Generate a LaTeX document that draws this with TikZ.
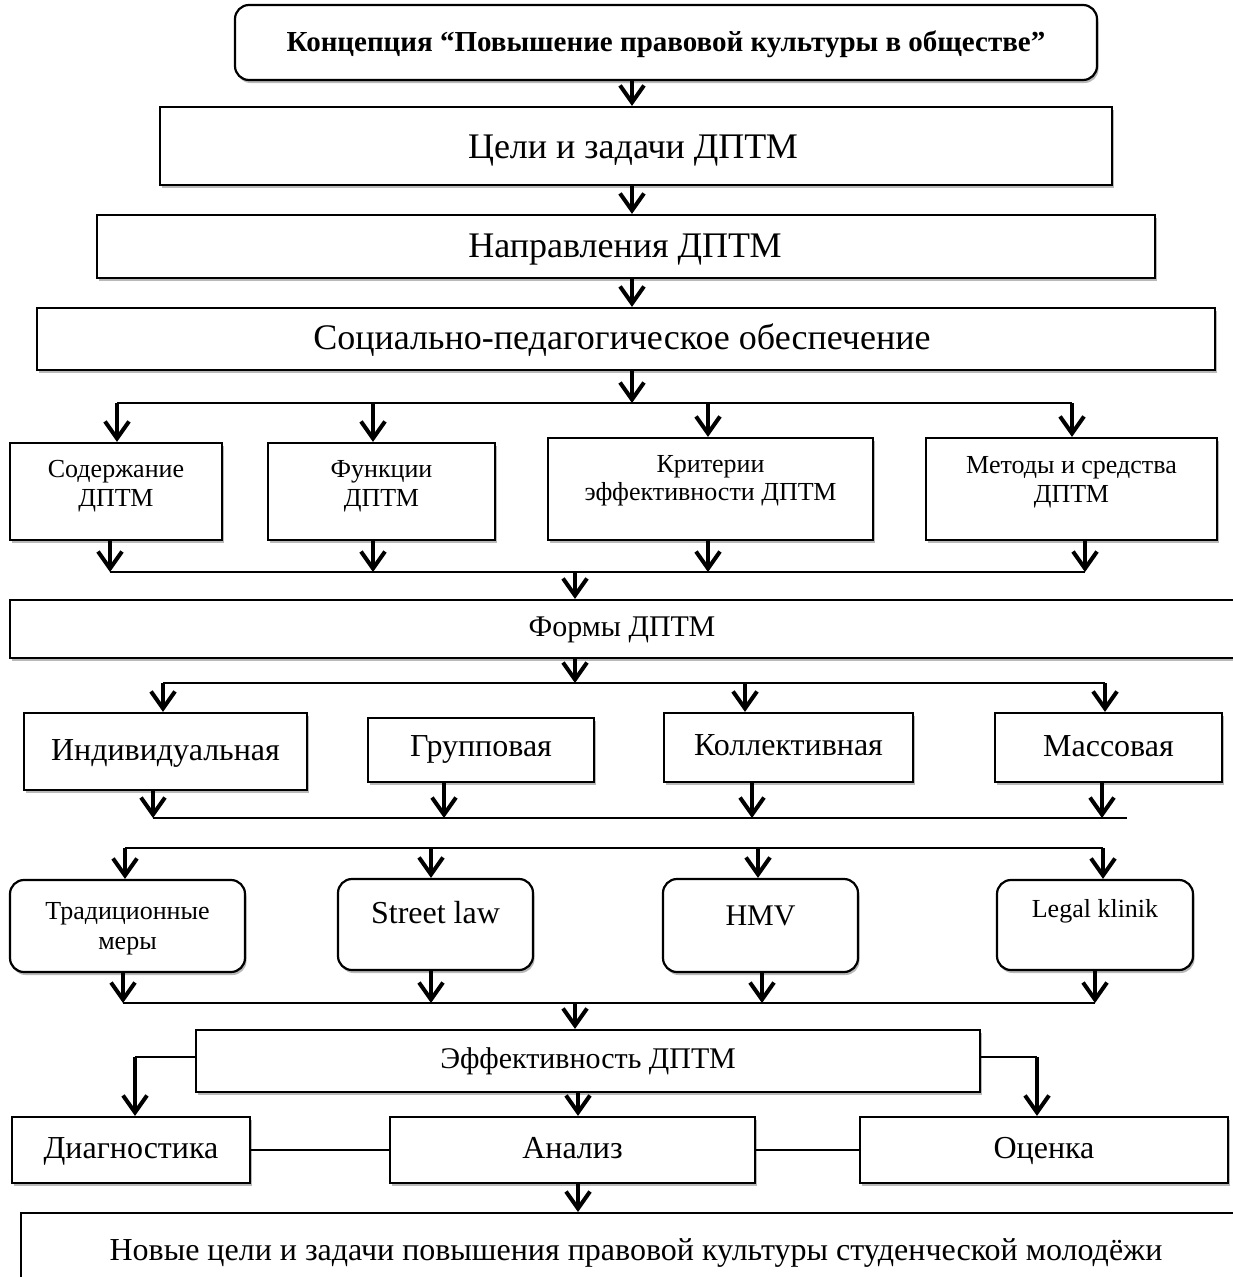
\documentclass[tikz,border=0pt]{standalone}
\usepackage{fontspec}
\setmainfont{Liberation Serif}
\usetikzlibrary{arrows.meta,shadows}
\begin{document}
\begin{tikzpicture}[x=1pt,y=-1pt,
  bx/.style={draw,line width=2.2pt,rectangle,inner sep=0pt,fill=white,
    drop shadow={shadow xshift=1.5pt,shadow yshift=-3pt,fill=gray!55,opacity=1}},
  rbx/.style={bx,rounded corners=14pt},
  arr/.style={line width=4pt,-{Straight Barb[length=17pt,width=24pt]}},
  bus/.style={line width=2pt},
  ln/.style={line width=2pt},
  t/.style={inner sep=0pt},
  f26/.style={t,font=\fontsize{26}{30}\selectfont,text height=18pt,text depth=6pt},
  f30/.style={t,font=\fontsize{30}{34}\selectfont,text height=21pt,text depth=7pt},
  f32/.style={t,font=\fontsize{32}{36}\selectfont,text height=22pt,text depth=7pt},
  f36/.style={t,font=\fontsize{36}{40}\selectfont,text height=25pt,text depth=8pt},
  fb/.style={t,font=\fontsize{29}{34}\selectfont\bfseries,text height=20pt,text depth=6pt}]
\useasboundingbox (0,0) rectangle (1232,1277);

% top chain
\node[rbx,minimum width=862pt,minimum height=75pt] (concept) at (666,42.5) {};
\node[fb] (conceptT) at (666,44) {Концепция “Повышение правовой культуры в обществе”};
\node[bx,minimum width=952pt,minimum height=78pt] (goals) at (636,146) {};
\node[f36] (goalsT) at (633,150) {Цели и задачи ДПТМ};
\node[bx,minimum width=1058pt,minimum height=63pt] (dirs) at (626,246.5) {};
\node[f36] (dirsT) at (625,249) {Направления ДПТМ};
\node[bx,minimum width=1178pt,minimum height=62pt] (social) at (626,339) {};
\node[f36] (socialT) at (622,341) {Социально-педагогическое обеспечение};
\coordinate (axis) at (632,0);
\draw[arr] (concept.south -| axis) -- (goals.north -| axis);
\draw[arr] (goals.south -| axis) -- (dirs.north -| axis);
\draw[arr] (dirs.south -| axis) -- (social.north -| axis);

% row 1
\node[bx,minimum width=212pt,minimum height=97pt] (sod) at (116,491.5) {};
\node[f26] (sodT1) at (116,471) {Содержание};
\node[f26] (sodT2) at (116,500) {ДПТМ};
\node[bx,minimum width=227pt,minimum height=97pt] (fun) at (381.5,491.5) {};
\node[f26] (funT1) at (381.5,471) {Функции};
\node[f26] (funT2) at (381.5,500) {ДПТМ};
\node[bx,minimum width=325pt,minimum height=102pt] (krit) at (710.5,489) {};
\node[f26] (kritT1) at (710.5,466) {Критерии};
\node[f26] (kritT2) at (710.5,494) {эффективности ДПТМ};
\node[bx,minimum width=291pt,minimum height=102pt] (met) at (1071.5,489) {};
\node[f26] (metT1) at (1071.5,467) {Методы и средства};
\node[f26] (metT2) at (1071.5,496) {ДПТМ};
\coordinate (b1a) at (117,403);
\coordinate (b1b) at (373,403);
\coordinate (b1c) at (708,403);
\coordinate (b1d) at (1072,403);
\draw[arr] (social.south -| axis) -- (axis |- b1a);
\draw[bus] (b1a) -- (b1d);
\foreach \c/\n in {b1a/sod,b1b/fun,b1c/krit,b1d/met}
  \draw[arr] (\c) -- (\c |- \n.north);
\coordinate (b2a) at (110,572);
\coordinate (b2b) at (373,572);
\coordinate (b2c) at (708,572);
\coordinate (b2d) at (1085,572);
\coordinate (b2m) at (575,572);
\foreach \c/\n in {b2a/sod,b2b/fun,b2c/krit,b2d/met}
  \draw[arr] (\c |- \n.south) -- (\c);
\draw[bus] (b2a) -- (b2d);

% forms
\node[bx,minimum width=1230pt,minimum height=58pt] (forms) at (625,629) {};
\node[f30] (formsT) at (622,629) {Формы ДПТМ};
\draw[arr] (b2m) -- (b2m |- forms.north);

% row 2
\node[bx,minimum width=283pt,minimum height=77pt] (ind) at (165.5,751.5) {};
\node[f32] (indT) at (165.5,753) {Индивидуальная};
\node[bx,minimum width=226pt,minimum height=64pt] (grp) at (481,750) {};
\node[f32] (grpT) at (481,749) {Групповая};
\node[bx,minimum width=249pt,minimum height=69pt] (kol) at (788.5,747.5) {};
\node[f32] (kolT) at (788.5,748) {Коллективная};
\node[bx,minimum width=227pt,minimum height=69pt] (mas) at (1108.5,747.5) {};
\node[f32] (masT) at (1108.5,749) {Массовая};
\coordinate (b3a) at (163,683);
\coordinate (b3m) at (575,683);
\coordinate (b3c) at (745,683);
\coordinate (b3d) at (1105,683);
\draw[arr] (forms.south -| b3m) -- (b3m);
\draw[bus] (b3a) -- (b3d);
\foreach \c/\n in {b3a/ind,b3c/kol,b3d/mas}
  \draw[arr] (\c) -- (\c |- \n.north);
\coordinate (b4a) at (153,818);
\coordinate (b4b) at (444,818);
\coordinate (b4c) at (752,818);
\coordinate (b4d) at (1102,818);
\coordinate (b4e) at (1127,818);
\foreach \c/\n in {b4a/ind,b4b/grp,b4c/kol,b4d/mas}
  \draw[arr] (\c |- \n.south) -- (\c);
\draw[bus] (b4a) -- (b4e);

% row 3 (rounded)
\node[rbx,minimum width=235pt,minimum height=92pt] (trad) at (127.5,926) {};
\node[f26] (tradT1) at (127.5,913) {Традиционные};
\node[f26] (tradT2) at (127.5,943) {меры};
\node[rbx,minimum width=195pt,minimum height=91pt] (street) at (435.5,924.5) {};
\node[f32] (streetT) at (435.5,916) {Street law};
\node[rbx,minimum width=195pt,minimum height=93pt] (hmv) at (760.5,925.5) {};
\node[f30] (hmvT) at (760.5,918) {HMV};
\node[rbx,minimum width=196pt,minimum height=90pt] (legal) at (1095,925) {};
\node[f26] (legalT) at (1095,911) {Legal klinik};
\coordinate (b5a) at (125,848);
\coordinate (b5b) at (431,848);
\coordinate (b5c) at (758,848);
\coordinate (b5d) at (1103,848);
\draw[bus] (b5a) -- (b5d);
\foreach \c/\n in {b5a/trad,b5b/street,b5c/hmv,b5d/legal}
  \draw[arr] (\c) -- (\c |- \n.north);
\coordinate (b6a) at (123,1003);
\coordinate (b6b) at (431,1003);
\coordinate (b6c) at (762,1003);
\coordinate (b6d) at (1095,1003);
\coordinate (b6m) at (575,1003);
\foreach \c/\n in {b6a/trad,b6b/street,b6c/hmv,b6d/legal}
  \draw[arr] (\c |- \n.south) -- (\c);
\draw[bus] (b6a) -- (b6d);

% effectiveness
\node[bx,minimum width=784pt,minimum height=62pt] (eff) at (588,1061) {};
\node[f30] (effT) at (588,1061) {Эффективность ДПТМ};
\draw[arr] (b6m) -- (b6m |- eff.north);
\node[bx,minimum width=238pt,minimum height=66pt] (diag) at (131,1150) {};
\node[f32] (diagT) at (131,1151) {Диагностика};
\node[bx,minimum width=365pt,minimum height=66pt] (anal) at (572.5,1150) {};
\node[f32] (analT) at (572.5,1151) {Анализ};
\node[bx,minimum width=368pt,minimum height=66pt] (ots) at (1044,1150) {};
\node[f32] (otsT) at (1044,1151) {Оценка};
\coordinate (ex) at (578,0);
\coordinate (dl) at (135,1057);
\coordinate (dr) at (1037,1057);
\draw[ln] (eff.west |- dl) -- (dl);
\draw[arr] (dl) -- (dl |- diag.north);
\draw[ln] (eff.east |- dr) -- (dr);
\draw[arr] (dr) -- (dr |- ots.north);
\draw[arr] (eff.south -| ex) -- (anal.north -| ex);
\draw[ln] (diag.east) -- (anal.west);
\draw[ln] (anal.east) -- (ots.west);

% final
\node[bx,minimum width=1220pt,minimum height=80pt,anchor=north west] (new) at (20,1212) {};
\node[f32] (newT) at (636,1253) {Новые цели и задачи повышения правовой культуры студенческой молодёжи};
\draw[arr] (anal.south -| ex) -- (new.north -| ex);
\end{tikzpicture}
\end{document}
